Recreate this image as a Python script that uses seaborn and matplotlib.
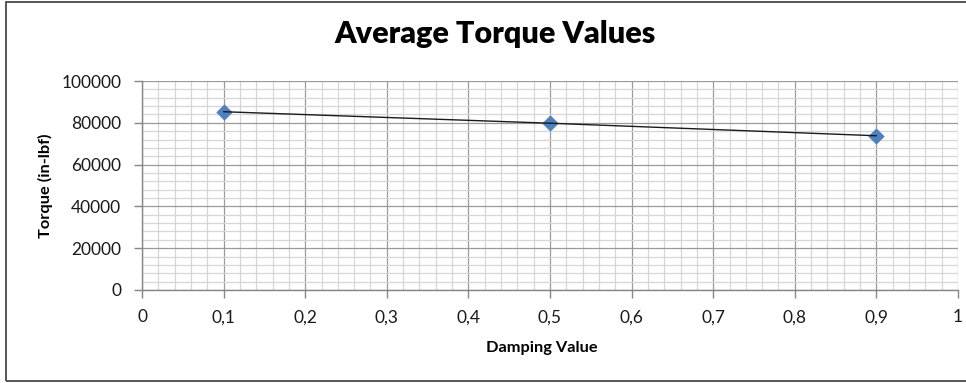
import matplotlib
matplotlib.use("Agg")
import matplotlib.pyplot as plt
from matplotlib.patches import Rectangle
from matplotlib.ticker import MultipleLocator
import seaborn as sns
import pandas as pd

# Average torque measured at each damping value
damping = [0.1, 0.5, 0.9]
torque = [85300, 79800, 73800]

x_ticks = [0, 0.1, 0.2, 0.3, 0.4, 0.5, 0.6, 0.7, 0.8, 0.9, 1]
x_tick_labels = ["0", "0,1", "0,2", "0,3", "0,4", "0,5", "0,6", "0,7", "0,8", "0,9", "1"]
y_ticks = [0, 20000, 40000, 60000, 80000, 100000]

df = pd.DataFrame({"Damping Value": damping, "Torque (in-lbf)": torque})

sns.set_theme(style="white")
plt.rcParams["font.family"] = ["Lato", "DejaVu Sans"]

fig = plt.figure(figsize=(9.66, 3.83), dpi=100)
fig.patch.set_facecolor("white")
ax = fig.add_axes([142 / 966, 93 / 383, 816 / 966, 209 / 383])

# Minor and major grid, Excel style
ax.set_xlim(0, 1)
ax.set_ylim(0, 100000)
ax.set_xticks(x_ticks)
ax.set_xticklabels(x_tick_labels)
ax.set_yticks(y_ticks)
ax.xaxis.set_minor_locator(MultipleLocator(0.02))
ax.yaxis.set_minor_locator(MultipleLocator(4000))
ax.grid(which="minor", color="#d6d6d6", linewidth=0.9, zorder=0)
ax.grid(which="major", color="#9a9a9a", linewidth=0.9, zorder=0)
ax.set_axisbelow(True)

sns.lineplot(data=df, x="Damping Value", y="Torque (in-lbf)", ax=ax,
             color="#1a1a1a", linewidth=1.0, zorder=4)
sns.scatterplot(data=df, x="Damping Value", y="Torque (in-lbf)", ax=ax,
                marker="D", s=70, color="#4f81bd", edgecolor="#4f81bd",
                linewidth=0, zorder=3)

for side in ["top", "right"]:
    ax.spines[side].set_visible(False)
for side in ["left", "bottom"]:
    ax.spines[side].set_color("#868686")
    ax.spines[side].set_linewidth(1.0)

ax.tick_params(axis="both", which="major", direction="out", length=6,
               width=1.0, color="#868686", labelsize=12.5, labelcolor="#1a1a1a",
               left=True, bottom=True)
ax.tick_params(axis="y", which="major", pad=9)
ax.tick_params(axis="x", which="major", pad=8)
ax.tick_params(which="minor", length=0)

ax.set_xlabel("")
ax.set_ylabel("")

fig.text(495 / 966, (383 - 43) / 383, "Average Torque Values", ha="center",
         va="baseline", fontsize=22, fontweight="heavy", color="black")
fig.text(45 / 966, (383 - 186) / 383, "Torque (in-lbf)", ha="center",
         va="center", rotation=90, fontsize=11.8, fontweight="bold", color="black")
fig.text(542 / 966, (383 - 348) / 383, "Damping Value", ha="center",
         va="center", fontsize=11.8, fontweight="bold", color="black")

# Chart area border
fig.patches.append(Rectangle((6 / 966, 2 / 383), 1.2, 379 / 383,
                             transform=fig.transFigure, fill=False,
                             edgecolor="#3a3a3a", linewidth=1.2))

fig.savefig("out.png", dpi=100, facecolor="white")
